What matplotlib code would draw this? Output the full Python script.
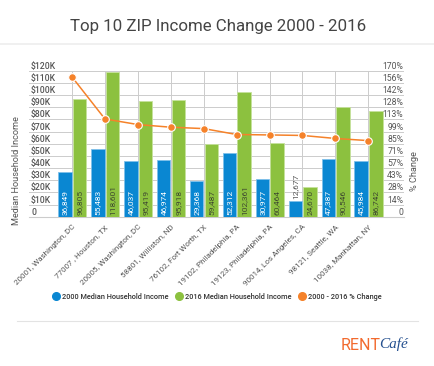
import matplotlib
matplotlib.use("Agg")
import matplotlib.pyplot as plt
from matplotlib.lines import Line2D
import numpy as np

plt.rcParams['font.family'] = ['Roboto', 'DejaVu Sans']

categories = ["20001, Washington, DC", "77007 , Houston, TX", "20005, Washington, DC",
              "58801, Williston, ND", "76102, Fort Worth, TX", "19102, Philadelphia, PA",
              "19123, Philadelphia, PA", "90014, Los Angeles, CA", "98121, Seattle, WA",
              "10038, Manhattan, NY"]
income_2000 = [36849, 55483, 46037, 46974, 29368, 52312, 30977, 12677, 47387, 45984]
income_2016 = [96805, 118601, 95419, 95918, 59487, 102361, 60464, 24670, 90546, 86742]
pct_change = [162.7, 113.8, 107.3, 104.2, 102.6, 95.7, 95.2, 94.6, 91.1, 88.6]
left_ticks = [0, 10000, 20000, 30000, 40000, 50000, 60000, 70000, 80000, 90000, 100000, 110000, 120000]
left_labels = ["0", "$10K", "$20K", "$30K", "$40K", "$50K", "$60K", "$70K", "$80K", "$90K",
               "$100K", "$110K", "$120K"]
right_labels = ["0", "14%", "28%", "43%", "57%", "71%", "85%", "99%", "113%", "128%", "142%", "156%", "170%"]

BLUE = "#0a87d2"
GREEN = "#8cc13f"
ORANGE = "#f5822a"
W, H = 435, 366

fig = plt.figure(figsize=(W / 100, H / 100), dpi=100)
# axes pixel box: x 29..404, y 70.7..216.7 (top-down)
x0, x1, ytop, ybot = 29, 404, 70.7, 216.7
ax = fig.add_axes([x0 / W, 1 - ybot / H, (x1 - x0) / W, (ybot - ytop) / H])
ax2 = ax.twinx()

cat_w = 32.9
xl = (-(72 - x0) / cat_w, 9 + (x1 - 368.3) / cat_w)
ax.set_xlim(*xl)
ax.set_ylim(0, 120000)
ax2.set_ylim(0, 170)

x = np.arange(len(categories))
bw = 0.41
ax.bar(x - bw / 2 - 0.01, income_2000, width=bw, color=BLUE, edgecolor="#7fc0ea", linewidth=0.6, zorder=3)
ax.bar(x + bw / 2 + 0.025, income_2016, width=bw, color=GREEN, edgecolor="#c6e29c", linewidth=0.6, zorder=3)

# value labels
for xi, v in zip(x, income_2000):
    txt = f"{v:,}"
    if v > 20000:
        ax.text(xi - bw / 2 - 0.01, 1800, txt, rotation=90, ha="center", va="bottom",
                fontsize=6, color="white", zorder=5)
    else:
        ax.text(xi - bw / 2 - 0.01, v + 1500, txt, rotation=90, ha="center", va="bottom",
                fontsize=6, color="#555555", zorder=5)
for xi, v in zip(x, income_2016):
    ax.text(xi + bw / 2 + 0.025, 1800, f"{v:,}", rotation=90, ha="center", va="bottom",
            fontsize=6, color="#3f4a30", zorder=5)

ax2.plot(x, pct_change, color=ORANGE, lw=1.1, marker="o", ms=5.5, mfc=ORANGE, mec="white", mew=0.8, zorder=6)

# grids
ax.set_yticks(left_ticks)
ax.set_yticklabels(left_labels)
ax2.set_yticks(np.linspace(0, 170, 13))
ax2.set_yticklabels(right_labels)
ax.set_xticks(x)
ax.set_xticklabels(categories, rotation=45, ha="right", rotation_mode="anchor", fontsize=5.8, color="#555555")
ax.grid(True, axis="both", color="#cccccc", lw=0.7, zorder=0)
ax.set_axisbelow(True)
ax.tick_params(axis="x", length=0, pad=5)
ax.tick_params(axis="y", length=0, pad=-1.5, labelsize=6.2, labelcolor="#555555")
for t in ax.get_yticklabels():
    t.set_horizontalalignment("left")
    t.set_verticalalignment("bottom")
    t.set_fontweight("medium")
ax2.tick_params(axis="y", length=0, pad=-0.5, labelsize=6.2, labelcolor="#555555")
for t in ax2.get_yticklabels():
    t.set_horizontalalignment("right")
    t.set_verticalalignment("bottom")
for s in list(ax.spines.values()) + list(ax2.spines.values()):
    s.set_visible(False)
ax.spines["bottom"].set_visible(True)
ax.spines["bottom"].set_color("#cccccc")
ax.spines["bottom"].set_linewidth(0.8)
ax.patch.set_visible(False)
ax2.patch.set_visible(False)
ax2.set_zorder(ax.get_zorder() + 1)

# axis titles
fig.text(17 / W, 1 - 171 / H, "Median Household Income", rotation=90, ha="center", va="center",
         fontsize=6.6, color="#555555")
fig.text(415 / W, 1 - 171 / H, "% Change", rotation=90, ha="center", va="center",
         fontsize=6.6, color="#555555")

# title
fig.text(218 / W, 1 - 26 / H, "Top 10 ZIP Income Change 2000 - 2016", ha="center", va="center",
         fontsize=12.2, color="#444444")
fig.add_artist(Line2D([0, 1], [1 - 44 / H, 1 - 44 / H], color="#eeeeee", lw=1.2, transform=fig.transFigure))

# legend
handles = [Line2D([], [], ls="", marker="o", ms=5.5, color=BLUE),
           Line2D([], [], ls="", marker="o", ms=5.5, color=GREEN),
           Line2D([], [], ls="", marker="o", ms=5.5, color=ORANGE)]
fig.legend(handles, ["2000 Median Household Income", "2016 Median Household Income", "2000 - 2016 % Change"],
           loc="center", bbox_to_anchor=(217 / W, 1 - 297 / H), ncol=3, frameon=False,
           handletextpad=0.3, columnspacing=0.9, handlelength=1.0,
           labelcolor="#333333", prop={"weight": "medium", "size": 5.3})

fig.add_artist(Line2D([17 / W, 418 / W], [1 - 321 / H, 1 - 321 / H], color="#e3e3e3", lw=0.8,
                      transform=fig.transFigure))

# logo
fig.text(341 / W, 1 - 345 / H, "RENT", ha="left", va="center", fontsize=11.5, color="#f26a2e",
         family="Roboto")
fig.text(379 / W, 1 - 344 / H, "Café", ha="left", va="center", fontsize=11, color="#25508f",
         family="Liberation Serif", style="italic")

fig.savefig("out.png", dpi=100, facecolor="white")
